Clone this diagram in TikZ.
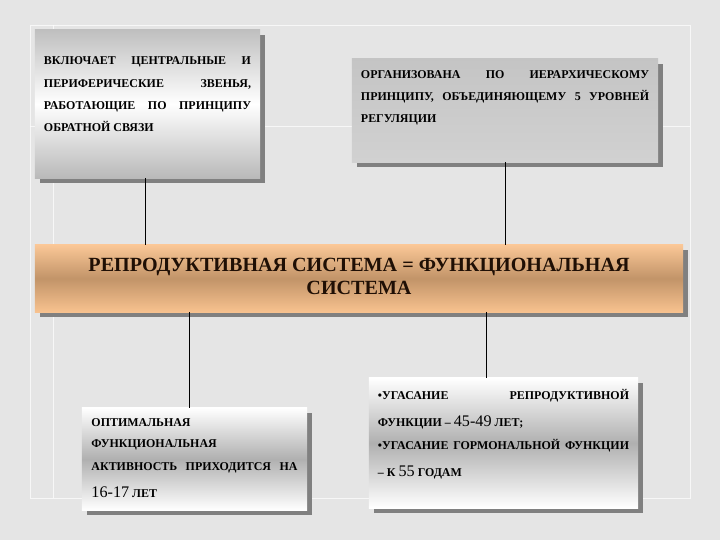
\documentclass[tikz,border=0pt]{standalone}
\usepackage{fontspec}
\setmainfont{Liberation Serif}
\usepackage{tikz}
\usetikzlibrary{shadows}
\definecolor{marblebg}{rgb}{0.90,0.90,0.90}
\definecolor{shadowgray}{rgb}{0.50,0.50,0.50}
\definecolor{peachtop}{rgb}{0.98,0.78,0.59}
\definecolor{peachmid}{rgb}{0.76,0.58,0.41}
\definecolor{peachbot}{rgb}{0.97,0.76,0.56}
\definecolor{bartext}{rgb}{0.12,0.06,0.02}
\newcommand{\jl}[1]{\makebox[\linewidth][s]{#1}}
\newcommand{\firstline}{\rule{0pt}{8pt}}
\newcommand{\bignum}[1]{{\fontsize{11.5}{13}\selectfont\mdseries #1}}

\begin{document}
\begin{tikzpicture}[x=0.025cm, y=-0.025cm,
    box/.style={rectangle, inner sep=0pt, text=black,
      font=\rmfamily\fontsize{8.5}{15.65}\selectfont\bfseries,
      general shadow={fill=shadowgray, shadow xshift=3.6pt, shadow yshift=-3.6pt}},
    whitemid/.style={box, top color=gray!50, bottom color=gray!55, middle color=white},
    graymid/.style={box, top color=white, bottom color=white, middle color=gray!62},
    flatgray/.style={box, top color=gray!46, bottom color=gray!36},
    bar/.style={box, top color=peachtop, bottom color=peachbot, middle color=peachmid,
      text=bartext, font=\rmfamily\fontsize{14.3}{16.4}\selectfont\bfseries},
    link/.style={draw=black, line width=0.6pt},
    frameline/.style={draw=white, line width=0.5pt, opacity=0.7}
]
\useasboundingbox (0,0) rectangle (720,540);
\fill[marblebg] (0,0) rectangle (720,540);

% faint frame of the slide
\draw[frameline] (30,25) rectangle (690,498);
\draw[frameline] (53,25) -- (53,498);
\draw[frameline] (30,126) -- (690,126);

\node[whitemid, minimum width=5.625cm, minimum height=3.7cm] (central) at (147.5,104)
  {\parbox[c][3.7cm][t]{5.175cm}{\vspace*{16.9pt}\firstline\jl{ВКЛЮЧАЕТ ЦЕНТРАЛЬНЫЕ И}\\
   \jl{ПЕРИФЕРИЧЕСКИЕ ЗВЕНЬЯ,}\\
   \jl{РАБОТАЮЩИЕ ПО ПРИНЦИПУ}\\
   ОБРАТНОЙ СВЯЗИ}};
\node[flatgray, minimum width=7.65cm, minimum height=2.575cm] (hier) at (505,110.5)
  {\parbox[c][2.575cm][t]{7.2cm}{\vspace*{6.2pt}\firstline\jl{ОРГАНИЗОВАНА ПО ИЕРАРХИЧЕСКОМУ}\\
   \jl{ПРИНЦИПУ, ОБЪЕДИНЯЮЩЕМУ 5 УРОВНЕЙ}\\
   РЕГУЛЯЦИИ}};

\node[bar, minimum width=16.2cm, minimum height=1.675cm] (repro) at (359,278.5)
  {\parbox[c][1.675cm][t]{16.2cm}{\centering\vspace*{7pt}\rule{0pt}{12pt}РЕПРОДУКТИВНАЯ СИСТЕМА = ФУНКЦИОНАЛЬНАЯ\\
   СИСТЕМА}};

\node[graymid, minimum width=5.625cm, minimum height=2.55cm] (optimum) at (194.5,459)
  {\parbox[c][2.55cm][t]{5.15cm}{\vspace*{5.5pt}\firstline ОПТИМАЛЬНАЯ\\[-0.75pt]
   ФУНКЦИОНАЛЬНАЯ\\[0.75pt]
   \jl{АКТИВНОСТЬ ПРИХОДИТСЯ НА}\\[2.85pt]
   \bignum{16-17} ЛЕТ}};
\node[graymid, minimum width=6.725cm, minimum height=3.25cm] (decline) at (503.5,443)
  {\parbox[c][3.25cm][t]{6.275cm}{\vspace*{7.6pt}\firstline\jl{•УГАСАНИЕ РЕПРОДУКТИВНОЙ}\\[3.55pt]
   ФУНКЦИИ – \bignum{45-49} ЛЕТ;\\[0.75pt]
   \jl{•УГАСАНИЕ ГОРМОНАЛЬНОЙ ФУНКЦИИ}\\[2.85pt]
   – К \bignum{55} ГОДАМ}};

\coordinate (c1) at (145,0);
\coordinate (c2) at (505,0);
\coordinate (c3) at (189,0);
\coordinate (c4) at (486,0);

\draw[link] (central.south -| c1) -- (repro.north -| c1);
\draw[link] (hier.south -| c2) -- (repro.north -| c2);
\draw[link] (repro.south -| c3) -- (optimum.north -| c3);
\draw[link] (repro.south -| c4) -- (decline.north -| c4);

\end{tikzpicture}
\end{document}
